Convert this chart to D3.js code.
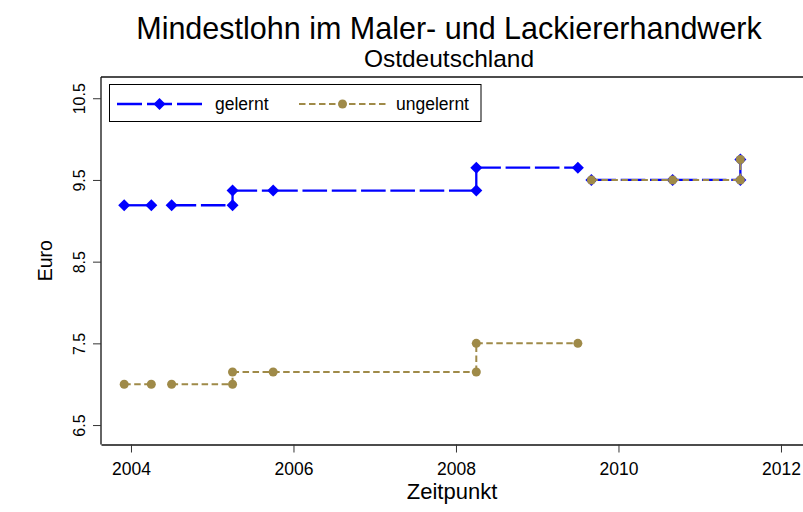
<!DOCTYPE html>
<html>
<head>
<meta charset="utf-8">
<script src="https://cdn.jsdelivr.net/npm/d3@7"></script>
<style>
  html, body { margin: 0; padding: 0; background: #ffffff; }
  svg { display: block; }
  text { font-family: "Liberation Sans", Arial, sans-serif; fill: #000; }
</style>
</head>
<body>
<svg id="chart" width="803" height="512"></svg>
<script>
// ---- data ----
const dates = ["2003-12","2004-04","2004-05","2004-07","2005-04","2005-04","2005-10","2008-04","2008-04","2009-07","2009-08","2009-09","2010-09","2011-07","2011-07"];
const gelernt   = [9.19, 9.19, null, 9.19, 9.19, 9.37, 9.37, 9.37, 9.65, 9.65, null, 9.50, 9.50, 9.50, 9.75];
const ungelernt = [7.00, 7.00, null, 7.00, 7.00, 7.15, 7.15, 7.15, 7.50, 7.50, null, 9.50, 9.50, 9.50, 9.75];
const xTicks = [2004, 2006, 2008, 2010, 2012];
const yTicks = [6.5, 7.5, 8.5, 9.5, 10.5];
const seriesNames = ["gelernt", "ungelernt"];

const titleText = "Mindestlohn im Maler- und Lackiererhandwerk";
const subtitleText = "Ostdeutschland";
const xTitle = "Zeitpunkt";
const yTitle = "Euro";

// ---- layout ----
const W = 803, H = 512;
const plot = { left: 101, right: 803, top: 77, bottom: 444.5 };
const blue = "#0000ff";
const olive = "#9f8a48";

const toYear = s => { const [y, m] = s.split("-").map(Number); return y + (m - 1) / 12; };

const x = d3.scaleLinear().domain([2003.631, 2012.271]).range([plot.left, plot.right]);
const y = d3.scaleLinear().domain([6.262, 10.76]).range([plot.bottom, plot.top]);

const svg = d3.select("#chart");
svg.append("rect").attr("width", W).attr("height", H).attr("fill", "#fff");

// plot region outline (top edge)
svg.append("line").attr("x1", plot.left).attr("x2", plot.right)
  .attr("y1", plot.top).attr("y2", plot.top)
  .attr("stroke", "#111").attr("stroke-width", 1.3);

// axes
const xAxis = d3.axisBottom(x).tickValues(xTicks).tickFormat(d3.format("d")).tickSize(8).tickSizeOuter(0);
const gx = svg.append("g").attr("transform", `translate(0,${plot.bottom})`).call(xAxis);
gx.select(".domain").attr("stroke", "#111").attr("stroke-width", 1.3);
gx.selectAll(".tick line").attr("stroke", "#333").attr("stroke-width", 1);
gx.selectAll(".tick text").attr("font-size", "17.5px").attr("font-family", "Liberation Sans, Arial, sans-serif")
  .attr("fill", "#000").attr("y", 30).attr("dy", 0);

const yAxis = d3.axisLeft(y).tickValues(yTicks).tickFormat(d3.format(".1f")).tickSize(8).tickSizeOuter(0);
const gy = svg.append("g").attr("transform", `translate(${plot.left},0)`).call(yAxis);
gy.select(".domain").attr("stroke", "#111").attr("stroke-width", 1.3)
  .attr("d", `M0,${plot.top}V${plot.bottom}`);
gy.selectAll(".tick line").attr("stroke", "#333").attr("stroke-width", 1);
gy.selectAll(".tick text")
  .attr("font-size", "16px").attr("font-family", "Liberation Sans, Arial, sans-serif")
  .attr("fill", "#000")
  .attr("x", 0).attr("dy", 0)
  .attr("text-anchor", "middle")
  .attr("transform", "translate(-16,0) rotate(-90)");

// titles
svg.append("text").attr("x", 449).attr("y", 39).attr("text-anchor", "middle")
  .attr("font-size", "30.5px").text(titleText);
svg.append("text").attr("x", 449).attr("y", 67).attr("text-anchor", "middle")
  .attr("font-size", "24.5px").text(subtitleText);
svg.append("text").attr("x", 452).attr("y", 499).attr("text-anchor", "middle")
  .attr("font-size", "22px").text(xTitle);
svg.append("text").attr("transform", `translate(52,${(plot.top + plot.bottom) / 2}) rotate(-90)`)
  .attr("text-anchor", "middle").attr("font-size", "19.5px").text(yTitle);

// ---- series ----
const line = d3.line().x(d => x(d.t)).y(d => y(d.v)).curve(d3.curveStepAfter);
const diamond = d3.symbol(d3.symbolSquare, 72);
const circle = d3.symbol(d3.symbolCircle, 64);

function series(values, color, width, dash, marker, rotate) {
  const pts = dates.map((s, i) => ({ t: toYear(s), v: values[i] }));
  const g = svg.append("g");
  for (let i = 0; i < pts.length - 1; i++) {
    if (pts[i].v == null || pts[i + 1].v == null) continue;
    g.append("path").attr("d", line([pts[i], pts[i + 1]]))
      .attr("fill", "none").attr("stroke", color).attr("stroke-width", width)
      .attr("stroke-dasharray", dash);
  }
  g.selectAll("path.m").data(pts.filter(p => p.v != null)).join("path")
    .attr("class", "m")
    .attr("d", marker)
    .attr("transform", p => `translate(${x(p.t)},${y(p.v)}) rotate(${rotate})`)
    .attr("fill", color);
}

series(gelernt, blue, 2.3, "24.6,4.7", diamond, 45);
series(ungelernt, olive, 2, "6.5,3.5", circle, 0);

// ---- legend ----
const lg = svg.append("g");
lg.append("rect").attr("x", 109.5).attr("y", 84.5).attr("width", 371.5).attr("height", 37)
  .attr("fill", "#fff").attr("stroke", "#000").attr("stroke-width", 1);
const legendItems = [
  { name: seriesNames[0], color: blue, width: 2.3, dash: "25,5", marker: diamond, rot: 45, x0: 117, x1: 202, tx: 215 },
  { name: seriesNames[1], color: olive, width: 2, dash: "6.5,3.5", marker: circle, rot: 0, x0: 299, x1: 386, tx: 396 }
];
const ly = 104;
legendItems.forEach(it => {
  const mx = (it.x0 + it.x1) / 2;
  lg.append("line").attr("x1", it.x0).attr("x2", it.x1).attr("y1", ly).attr("y2", ly)
    .attr("stroke", it.color).attr("stroke-width", it.width).attr("stroke-dasharray", it.dash);
  lg.append("path").attr("d", it.marker).attr("transform", `translate(${mx},${ly}) rotate(${it.rot})`)
    .attr("fill", it.color);
  lg.append("text").attr("x", it.tx).attr("y", 109.5).attr("font-size", "17.5px").text(it.name);
});
</script>
</body>
</html>
